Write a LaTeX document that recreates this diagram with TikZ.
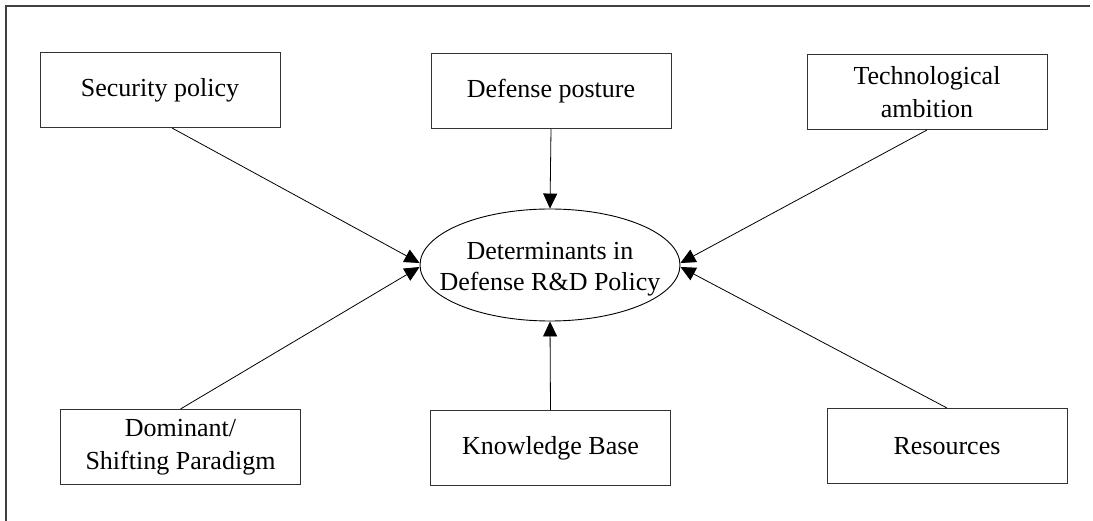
\documentclass[tikz,border=0pt]{standalone}
\usepackage{fontspec}
\setmainfont{Liberation Serif}
\usetikzlibrary{arrows.meta,shapes.geometric,calc}
\begin{document}
\begin{tikzpicture}[x=1pt,y=-1pt,
  boxnode/.style={draw=black!80,line width=1pt,rectangle,minimum width=240pt,minimum height=75pt,inner sep=2pt,align=center,font=\fontsize{26}{33}\selectfont},
  ellnode/.style={draw=black,line width=0.9pt,ellipse,minimum width=260pt,minimum height=112pt,inner sep=0pt},
  elltext/.style={align=center,font=\fontsize{26}{31}\selectfont},
  conn/.style={draw=black,line width=0.8pt,-{Triangle[length=15pt,width=14pt]}},
  frame/.style={draw=black!75,line width=1.4pt}]
\useasboundingbox (0,0) rectangle (1093,521);
\draw[frame] (6,521) -- (6,6) -- (1090,6);
\node[boxnode] (sec) at (160,90) {Security policy};
\node[boxnode] (def) at (551,91) {Defense posture};
\node[boxnode] (tech) at (927,92) {Technological\\ambition};
\node[boxnode] (dom) at (180.5,447) {Dominant/\\Shifting Paradigm};
\node[boxnode] (know) at (550.5,448) {Knowledge Base};
\node[boxnode] (res) at (947,446) {Resources};
\node[ellnode] (ell) at (550,265) {};
\node[elltext] (elltxt) at ($(ell.center)+(0,4)$) {Determinants in\\Defense R\&D Policy};
\draw[conn] ($(sec.south)+(12,0)$) -- ($(ell.west)+(0,-2)$);
\draw[conn] (dom.north) -- ($(ell.west)+(0,2)$);
\draw[conn] (def.south) -- (ell.north);
\draw[conn] (know.north) -- (ell.south);
\draw[conn] (tech.south) -- ($(ell.east)+(0,-2)$);
\draw[conn] (res.north) -- ($(ell.east)+(0,2)$);
\end{tikzpicture}
\end{document}
